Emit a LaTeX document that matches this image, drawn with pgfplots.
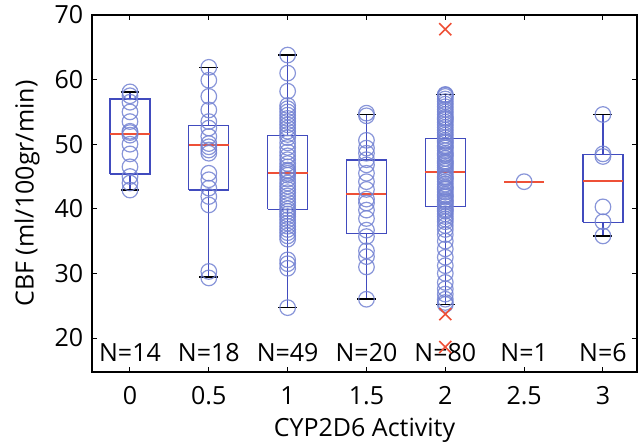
\documentclass[border=0pt]{standalone}
\usepackage{fontspec}
\setmainfont{Open Sans}
\usepackage{pgfplots}
\pgfplotsset{compat=1.18}
\definecolor{boxblue}{RGB}{65,75,190}
\definecolor{circblue}{RGB}{115,130,210}
\definecolor{medred}{RGB}{238,80,55}
\pgfplotsset{pts/.style={only marks, mark=o, mark size=3.9pt, draw=circblue, mark options={line width=0.6pt, draw opacity=0.85}}}
\begin{document}
\fontsize{12.5}{14}\selectfont
\begin{tikzpicture}
\begin{axis}[name=ax, scale only axis, width=272.5pt, height=178.5pt,
  xmin=-0.241, xmax=3.216, ymin=14.74, ymax=70,
  xtick={0,0.5,1,1.5,2,2.5,3}, xticklabels={0,0.5,1,1.5,2,2.5,3},
  ytick={20,30,40,50,60,70},
  tick align=inside, major tick length=2.5pt,
  tick style={black, line width=0.5pt},
  axis line style={black, line width=0.6pt},
  /pgf/number format/assume math mode=true,
  ticklabel style={font=\fontsize{12.5}{14}\selectfont},
  xticklabel style={yshift=-3pt},
  xlabel={CYP2D6 Activity}, ylabel={CBF (ml/100gr/min)},
  xlabel style={yshift=2pt},
  ylabel style={yshift=-1pt},
  unbounded coords=jump,
  clip=false,
]
% boxes (Q1, Q3), half width 0.127
\addplot[boxblue, line width=0.6pt] coordinates {
(-0.127,45.4) (0.127,45.4) (0.127,57.0) (-0.127,57.0) (-0.127,45.4) (nan,nan)
(0.373,42.9) (0.627,42.9) (0.627,52.9) (0.373,52.9) (0.373,42.9) (nan,nan)
(0.873,39.9) (1.127,39.9) (1.127,51.4) (0.873,51.4) (0.873,39.9) (nan,nan)
(1.373,36.2) (1.627,36.2) (1.627,47.55) (1.373,47.55) (1.373,36.2) (nan,nan)
(1.873,40.3) (2.127,40.3) (2.127,50.9) (1.873,50.9) (1.873,40.3) (nan,nan)
(2.873,37.9) (3.127,37.9) (3.127,48.4) (2.873,48.4) (2.873,37.9)
};
% whiskers
\addplot[boxblue, line width=0.6pt] coordinates {
(0,42.9) (0,45.4) (nan,nan) (0,57.0) (0,58.1) (nan,nan)
(0.5,29.4) (0.5,42.9) (nan,nan) (0.5,52.9) (0.5,61.85) (nan,nan)
(1,24.7) (1,39.9) (nan,nan) (1,51.4) (1,63.8) (nan,nan)
(1.5,26.0) (1.5,36.2) (nan,nan) (1.5,47.55) (1.5,54.6) (nan,nan)
(2,25.2) (2,40.3) (nan,nan) (2,50.9) (2,57.7) (nan,nan)
(3,35.8) (3,37.9) (nan,nan) (3,48.4) (3,54.6)
};
% data points
\addplot[pts] coordinates {
(0,58.1) (0,57.5) (0,56.5) (0,55.0) (0,53.5) (0,52.0) (0,51.8) (0,51.4) (0,50.0) (0,48.5) (0,46.5) (0,45.0) (0,44.0) (0,42.9)
};
\addplot[pts] coordinates {
(0.5,61.9) (0.5,59.9) (0.5,57.4) (0.5,55.3) (0.5,53.5) (0.5,52.5) (0.5,51.2) (0.5,50.1) (0.5,49.6) (0.5,49.1) (0.5,48.6) (0.5,45.5) (0.5,44.5) (0.5,43.2) (0.5,41.9) (0.5,40.6) (0.5,30.3) (0.5,29.3)
};
\addplot[pts] coordinates {
(1,63.8) (1,61.0) (1,58.2) (1,56.0) (1,55.5) (1,55.0) (1,54.5) (1,54.0) (1,53.5) (1,53.0) (1,52.5) (1,52.0) (1,51.5) (1,51.0) (1,50.2) (1,49.5) (1,48.8) (1,48.2) (1,47.6) (1,47.0) (1,46.5) (1,46.0) (1,45.8) (1,45.5) (1,45.2) (1,44.6) (1,44.0) (1,43.5) (1,43.0) (1,42.5) (1,42.0) (1,41.5) (1,41.0) (1,40.5) (1,40.0) (1,39.6) (1,39.2) (1,38.8) (1,38.3) (1,37.8) (1,37.3) (1,36.8) (1,36.3) (1,35.8) (1,35.3) (1,32.1) (1,31.5) (1,30.8) (1,24.7)
};
\addplot[pts] coordinates {
(1.5,54.8) (1.5,54.4) (1.5,50.6) (1.5,49.4) (1.5,48.6) (1.5,47.6) (1.5,46.8) (1.5,45.5) (1.5,44.2) (1.5,43.0) (1.5,41.5) (1.5,40.9) (1.5,39.8) (1.5,38.5) (1.5,36.7) (1.5,35.7) (1.5,33.5) (1.5,32.6) (1.5,31.0) (1.5,26.0)
};
\addplot[pts] coordinates {
(2,57.7) (2,57.6) (2,57.4) (2,57.0) (2,56.6) (2,56.2) (2,55.8) (2,55.4) (2,55.0) (2,54.6) (2,54.2) (2,54.0) (2,53.8) (2,53.4) (2,53.0) (2,52.6) (2,52.2) (2,51.8) (2,51.4) (2,51.0)
(2,50.6) (2,50.4) (2,50.2) (2,49.8) (2,49.6) (2,49.4) (2,49.0) (2,48.6) (2,48.4) (2,48.2) (2,47.8) (2,47.4) (2,47.2) (2,47.0) (2,46.7) (2,46.4) (2,46.1) (2,45.8)
(2,45.4) (2,45.0) (2,44.8) (2,44.6) (2,44.2) (2,43.8) (2,43.4) (2,43.2) (2,43.0) (2,42.6) (2,42.2) (2,42.0) (2,41.8) (2,41.4) (2,41.2) (2,41.0) (2,40.7) (2,40.4)
(2,40.0) (2,39.8) (2,39.6) (2,39.2) (2,38.8) (2,38.4) (2,38.0) (2,37.4) (2,36.8) (2,36.0) (2,35.0) (2,33.8) (2,32.5) (2,31.2) (2,30.0) (2,28.6) (2,27.6) (2,26.8) (2,26.0) (2,25.5) (2,25.2)
};
\addplot[pts] coordinates {
(2.5,44.2)
};
\addplot[pts] coordinates {
(3,54.6) (3,48.5) (3,48.1) (3,40.3) (3,38.0) (3,35.8)
};
% medians
\addplot[medred, line width=0.85pt] coordinates {
(-0.127,51.6) (0.127,51.6) (nan,nan)
(0.373,49.9) (0.627,49.9) (nan,nan)
(0.873,45.5) (1.127,45.5) (nan,nan)
(1.373,42.25) (1.627,42.25) (nan,nan)
(1.873,45.65) (2.127,45.65) (nan,nan)
(2.373,44.2) (2.627,44.2) (nan,nan)
(2.873,44.25) (3.127,44.25)
};
% whisker caps
\addplot[black, line width=0.85pt] coordinates {
(-0.06,42.9) (0.06,42.9) (nan,nan) (-0.06,58.1) (0.06,58.1) (nan,nan)
(0.44,29.4) (0.56,29.4) (nan,nan) (0.44,61.85) (0.56,61.85) (nan,nan)
(0.94,24.7) (1.06,24.7) (nan,nan) (0.94,63.8) (1.06,63.8) (nan,nan)
(1.44,26.0) (1.56,26.0) (nan,nan) (1.44,54.6) (1.56,54.6) (nan,nan)
(1.94,25.2) (2.06,25.2) (nan,nan) (1.94,57.7) (2.06,57.7) (nan,nan)
(2.94,35.8) (3.06,35.8) (nan,nan) (2.94,54.6) (3.06,54.6)
};
% outliers
\addplot[only marks, mark=x, mark size=4.25pt, medred, mark options={line width=0.8pt}] coordinates {(2,67.8) (2,23.7) (2,18.6)};
% counts
\node at (axis cs:0,17.8) {N=14};
\node at (axis cs:0.5,17.8) {N=18};
\node at (axis cs:1,17.8) {N=49};
\node at (axis cs:1.5,17.8) {N=20};
\node at (axis cs:2,17.8) {N=80};
\node at (axis cs:2.5,17.8) {N=1};
\node at (axis cs:3,17.8) {N=6};
\end{axis}
\pgfresetboundingbox
\path[use as bounding box] ([shift={(-46pt,-35pt)}]ax.south west) rectangle ([shift={(2.5pt,7.5pt)}]ax.north east);
\end{tikzpicture}
\end{document}
